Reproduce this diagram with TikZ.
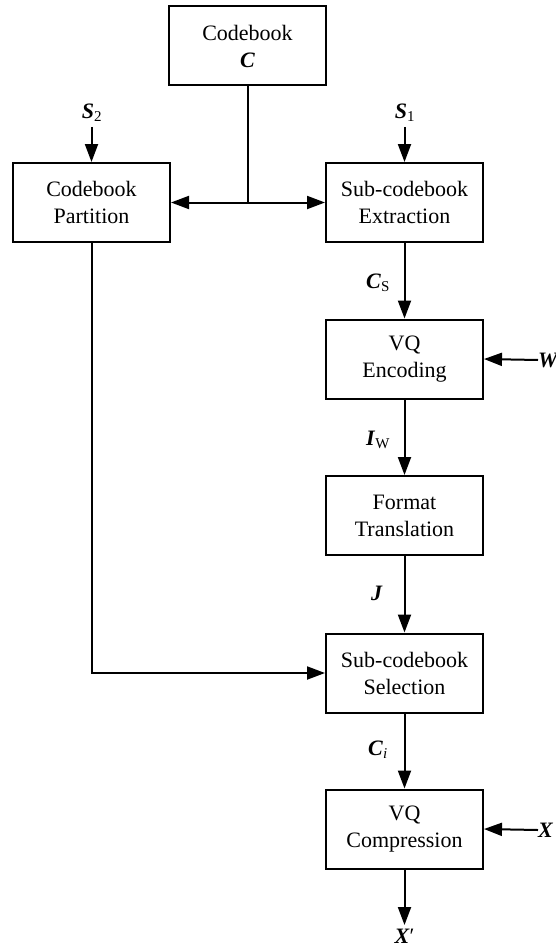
\documentclass[tikz,border=0pt]{standalone}
\usepackage{fontspec}
\setmainfont{Liberation Serif}
\usetikzlibrary{arrows.meta}
\newcommand\bvec[1]{\textbf{\textit{#1}}}
\newcommand\subtxt[1]{\textsubscript{\fontsize{15pt}{15pt}\selectfont #1}}
\begin{document}
\begin{tikzpicture}[x=1pt,y=-1pt,
  block/.style={draw,line width=2pt,minimum width=157pt,minimum height=79pt,
    align=center,font=\fontsize{22pt}{27pt}\selectfont,inner sep=2pt},
  sym/.style={inner sep=0pt,font=\fontsize{22pt}{26pt}\selectfont},
  flow/.style={line width=2pt,-{Triangle[length=18pt,width=13pt]}},
  wire/.style={line width=2pt}]
\useasboundingbox (0,0) rectangle (556,947);

% processing blocks
\node[block] (cb)   at (247.5,46)    {Codebook\\\bvec{C}};
\node[block] (part) at (91.5,202.5)  {Codebook\\Partition};
\node[block] (ext)  at (404.5,202.5) {Sub-codebook\\Extraction};
\node[block] (enc)  at (404.5,359)   {VQ\\Encoding};
\node[block] (fmt)  at (404.5,515.5) {Format\\Translation};
\node[block] (sel)  at (404.5,673)   {Sub-codebook\\Selection};
\node[block] (comp) at (404.5,829)   {VQ\\Compression};

% external inputs and output
\node[sym] (s2) at (92,113)  {\bvec{S}\subtxt{2}};
\node[sym] (s1) at (405,113) {\bvec{S}\subtxt{1}};
\node[sym,anchor=west] (w) at (538,360) {\bvec{W}};
\node[sym,anchor=west] (x) at (538,830) {\bvec{X}};
\node[sym] (xp) at (404.5,936) {\bvec{X}′};
\coordinate (s2in) at (91.5,127);
\coordinate (s1in) at (404.5,127);
\coordinate (xout) at (404.5,925);
\coordinate (split) at (247.5,202.5);

% signal labels on the main chain
\node[sym] (lcs) at (378,283) {\bvec{C}\subtxt{S}};
\node[sym] (liw) at (378,440) {\bvec{I}\subtxt{W}};
\node[sym] (lj)  at (377,593) {\bvec{J}};
\node[sym] (lci) at (378,750) {\bvec{C}\subtxt{\textit{i}}};

% connectors
\draw[wire] (cb.south) -- (split);
\draw[flow] (split) -- (part.east);
\draw[flow] (split) -- (ext.west);
\draw[flow] (s2in) -- (part.north);
\draw[flow] (s1in) -- (ext.north);
\draw[flow] (ext.south) -- (enc.north);
\draw[flow] (w.west) -- (enc.east);
\draw[flow] (enc.south) -- (fmt.north);
\draw[flow] (fmt.south) -- (sel.north);
\draw[flow] (part.south) |- (sel.west);
\draw[flow] (sel.south) -- (comp.north);
\draw[flow] (x.west) -- (comp.east);
\draw[flow] (comp.south) -- (xout);
\end{tikzpicture}
\end{document}
